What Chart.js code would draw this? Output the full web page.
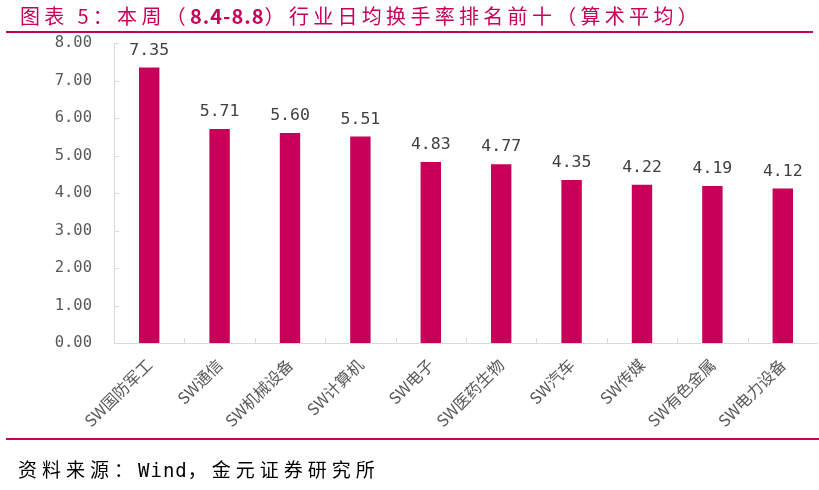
<!DOCTYPE html>
<html><head><meta charset="utf-8">
<script src="https://cdn.jsdelivr.net/npm/chart.js@4"></script>
<style>
html,body{margin:0;padding:0;background:#fff;}
#wrap{position:relative;width:819px;height:490px;overflow:hidden;}
#title{position:absolute;left:20px;top:3px;font-family:"Noto Sans CJK SC";font-size:20px;color:#C8005A;letter-spacing:4.3px;white-space:nowrap;line-height:26px;}
#title b{font-weight:bold;letter-spacing:1px;}
#topline{position:absolute;left:6px;top:31px;width:807px;height:2px;background:#C8005A;}
#botline{position:absolute;left:6px;top:438px;width:813px;height:2px;background:#C8005A;}
#source{position:absolute;left:18px;top:455px;font-family:"DejaVu Sans Mono","Noto Sans CJK SC";font-size:19px;color:#000;letter-spacing:5px;white-space:nowrap;}
#source span{letter-spacing:1px;}
canvas{position:absolute;left:0;top:0;}
</style></head>
<body><div id="wrap">
<canvas id="c" width="819" height="490"></canvas>
<div id="title">图表 5：本周（<b>8.4-8.8</b>）行业日均换手率排名前十（算术平均）</div>
<div id="topline"></div>
<div id="botline"></div>
<div id="source">资料来源：<span>Wind</span>，金元证券研究所</div>
</div>
<script>
const categories = ["SW国防军工","SW通信","SW机械设备","SW计算机","SW电子","SW医药生物","SW汽车","SW传媒","SW有色金属","SW电力设备"];
const turnover = [7.35,5.71,5.60,5.51,4.83,4.77,4.35,4.22,4.19,4.12];
const yTicks = [0,1,2,3,4,5,6,7,8];

const BAR = '#C8005A';
const AXIS = '#d9d9d9';

const decor = {
  id:'decor',
  afterDatasetsDraw(chart){
    const {ctx, chartArea:a, scales:{x,y}} = chart;
    ctx.save();
    ctx.strokeStyle = AXIS; ctx.lineWidth = 1;
    ctx.beginPath();
    ctx.moveTo(a.left+0.5, a.top); ctx.lineTo(a.left+0.5, a.bottom+0.5);
    ctx.lineTo(a.right, a.bottom+0.5);
    yTicks.forEach(v=>{const py=Math.round(y.getPixelForValue(v))+0.5; ctx.moveTo(a.left, py); ctx.lineTo(a.left+5, py);});
    for(let i=1;i<categories.length;i++){
      const px=Math.round((x.getPixelForValue(i-1)+x.getPixelForValue(i))/2)+0.5;
      ctx.moveTo(px,a.bottom); ctx.lineTo(px,a.bottom-5);
    }
    ctx.stroke();
    const meta = chart.getDatasetMeta(0);
    ctx.fillStyle = '#404040';
    ctx.font = '16.5px "DejaVu Sans Mono"';
    ctx.textAlign = 'center'; ctx.textBaseline = 'middle';
    meta.data.forEach((bar,i)=>{
      ctx.fillText(turnover[i].toFixed(2), bar.x, bar.y-17);
    });
    ctx.restore();
  }
};

new Chart(document.getElementById('c'), {
  type:'bar',
  data:{labels:categories, datasets:[{data:turnover, backgroundColor:BAR, borderWidth:0, categoryPercentage:1, barPercentage:0.29}]},
  options:{
    responsive:false, animation:false, devicePixelRatio:1,
    layout:{padding:{top:43,right:1,left:0,bottom:0}},
    plugins:{legend:{display:false}, tooltip:{enabled:false}},
    scales:{
      x:{
        grid:{display:false, drawTicks:false},
        border:{display:false},
        ticks:{minRotation:45,maxRotation:45,autoSkip:false,padding:12,color:'#595959',font:{family:'"Noto Sans CJK SC"',size:16}},
        afterFit(s){s.height=147;}
      },
      y:{
        min:0,max:8,
        grid:{display:false, drawTicks:false},
        border:{display:false},
        ticks:{stepSize:1,padding:22,color:'#595959',font:{family:'"DejaVu Sans Mono"',size:15.5},callback:v=>v.toFixed(2)},
        afterFit(s){s.width=114;}
      }
    }
  },
  plugins:[decor]
});
</script>
</body></html>
